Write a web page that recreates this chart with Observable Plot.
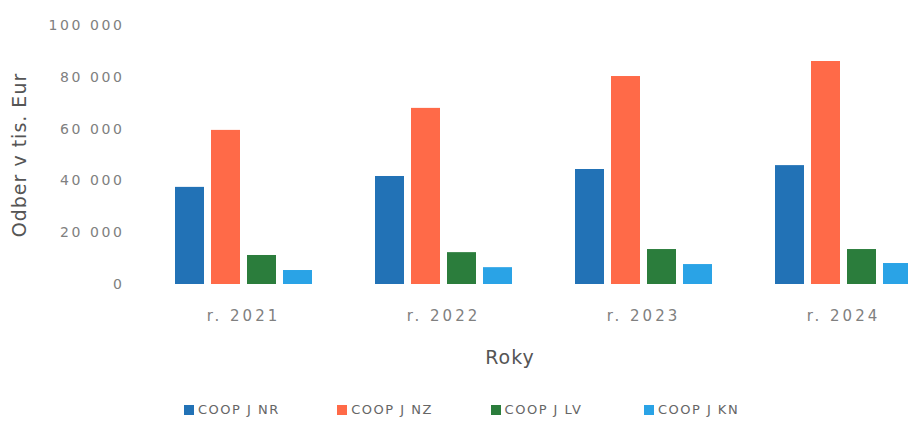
<!DOCTYPE html>
<html>
<head>
<meta charset="utf-8">
<script src="https://cdn.jsdelivr.net/npm/d3@7"></script>
<script src="https://cdn.jsdelivr.net/npm/@observablehq/plot@0.6"></script>
<style>
  html, body { margin: 0; padding: 0; background: #fff; }
  #wrap { position: relative; width: 908px; height: 425px; overflow: hidden; font-family: "DejaVu Sans", sans-serif; }
  #chart svg { display: block; }
  [aria-label="y-axis label"] text { font-size: 19px; fill: #555; letter-spacing: 1px; }
  [aria-label="y-axis tick label"] text { font-size: 14px; letter-spacing: 2.6px; }
  [aria-label="fx-axis tick label"] text { font-size: 15px; letter-spacing: 3px; }
  #xlabel { position: absolute; left: 0; width: 1020px; top: 346px; text-align: center; font-size: 19px; color: #555; letter-spacing: 1px; }
  #legend { position: absolute; left: 184px; top: 402px; display: flex; gap: 0; font-size: 13px; color: #666; letter-spacing: 1.5px; }
  #legend .item { display: flex; align-items: center; width: 153.3px; }
  #legend .sw { width: 10px; height: 10px; margin-right: 4px; }
</style>
</head>
<body>
<div id="wrap">
  <div id="chart"></div>
  <div id="xlabel">Roky</div>
  <div id="legend"></div>
</div>
<script>
const years = ["r. 2021", "r. 2022", "r. 2023", "r. 2024"];
const series = ["COOP J NR", "COOP J NZ", "COOP J LV", "COOP J KN"];
const nr = [37500, 41700, 44400, 45900];
const nz = [59500, 68000, 80300, 86100];
const lv = [11200, 12300, 13500, 13500];
const kn = [5400, 6500, 7700, 8100];
const colors = ["#2272b6", "#ff6a48", "#2b7d3c", "#2aa3e6"];
const yTicks = [0, 20000, 40000, 60000, 80000, 100000];

const valuesBySeries = [nr, nz, lv, kn];
const data = [];
years.forEach((yr, i) => {
  series.forEach((s, j) => data.push({ year: yr, series: s, value: valuesBySeries[j][i] }));
});

const fmt = d => d3.format(",")(d).replace(/,/g, " ");

const chart = Plot.plot({
  width: 908,
  height: 395,
  marginTop: 25,
  marginBottom: 111,
  marginLeft: 143,
  marginRight: 0,
  style: { fontFamily: "DejaVu Sans, sans-serif", fontSize: "14px", color: "#808080", background: "#fff" },
  fx: { domain: years, range: [143, 943], paddingInner: 0.31, paddingOuter: 0.155, label: null, tickSize: 0, tickPadding: 26 },
  x: { domain: series, paddingInner: 0.2, paddingOuter: 0, axis: null },
  y: { domain: [0, 100000], ticks: yTicks, tickFormat: fmt, tickSize: 0, tickPadding: 50, label: "Odber v tis. Eur", labelAnchor: "center", labelOffset: 162, labelArrow: "none" },
  color: { domain: series, range: colors },
  marks: [
    Plot.barY(data, { fx: "year", x: "series", y: "value", fill: "series" })
  ]
});
document.getElementById("chart").appendChild(chart);

const legend = document.getElementById("legend");
series.forEach((s, j) => {
  const it = document.createElement("div");
  it.className = "item";
  it.innerHTML = `<span class="sw" style="background:${colors[j]}"></span><span>${s}</span>`;
  legend.appendChild(it);
});
</script>
</body>
</html>
